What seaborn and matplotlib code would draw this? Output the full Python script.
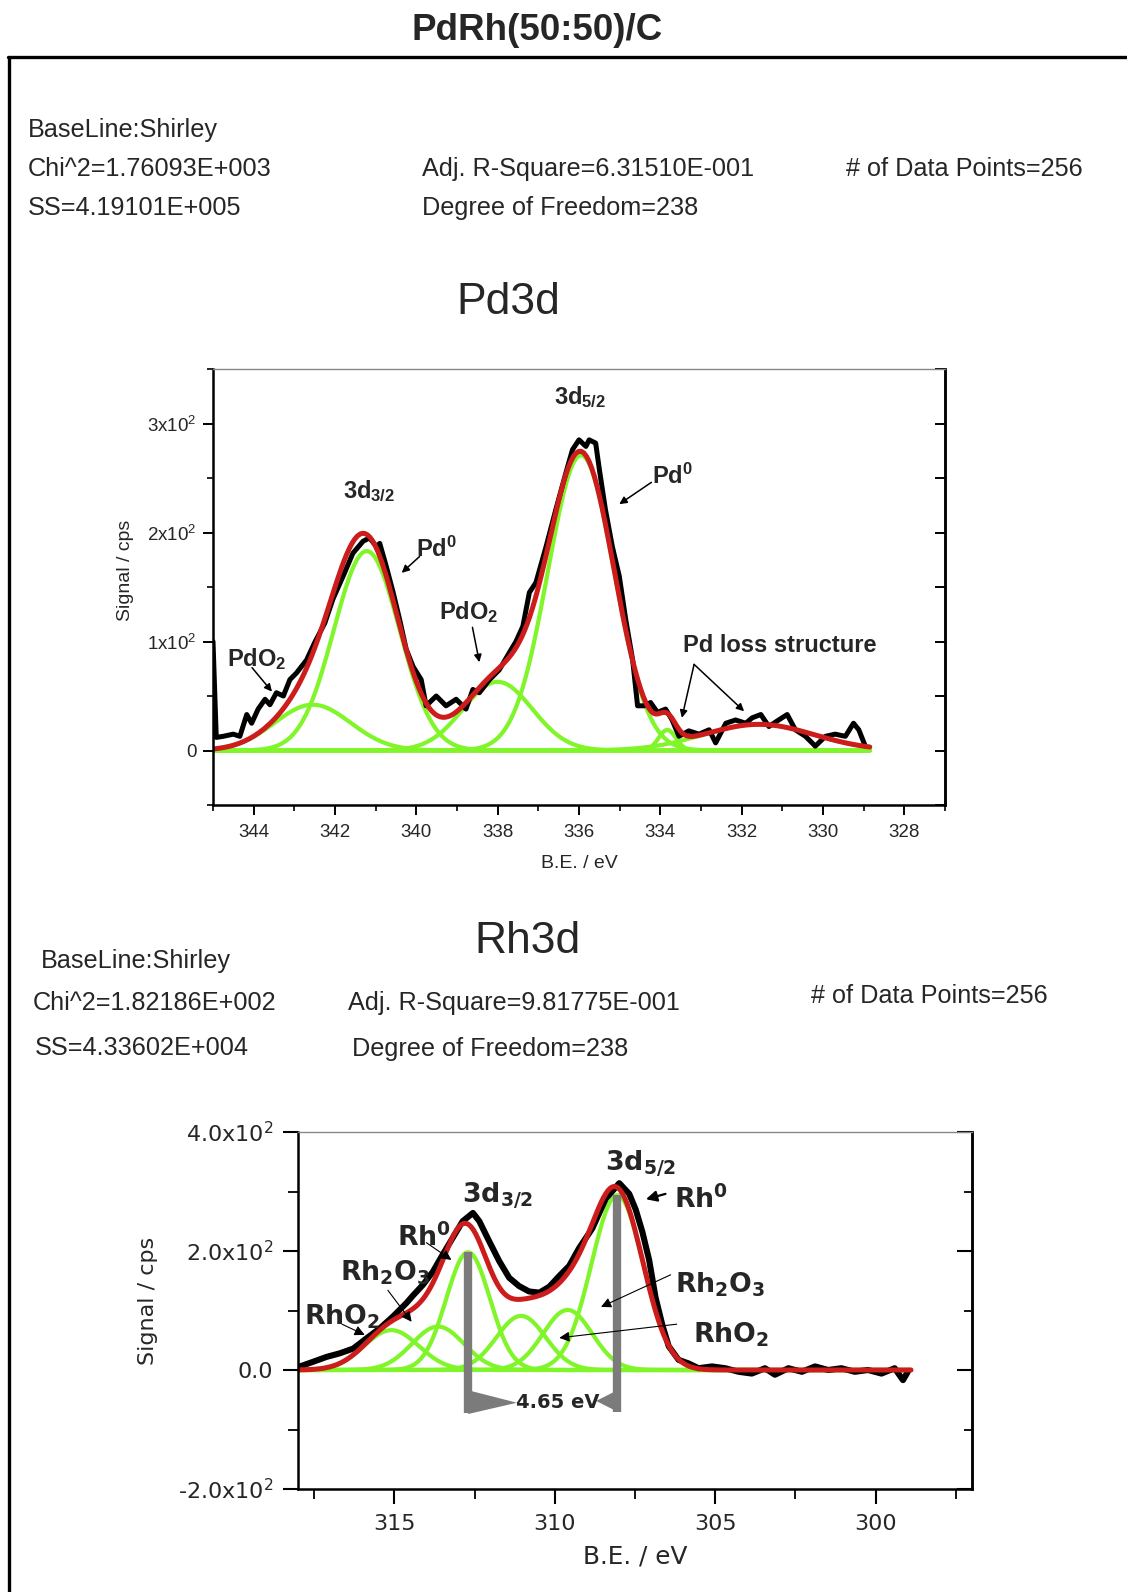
import numpy as np
import matplotlib
matplotlib.use("Agg")
import matplotlib.pyplot as plt
import seaborn as sns
from matplotlib.lines import Line2D
from matplotlib.ticker import MultipleLocator, FuncFormatter

W, H = 1127, 1592
N_POINTS = 256

# ---------------- Pd3d ----------------
pd_raw_be = [345.00, 344.92, 344.75, 344.50, 344.34, 344.17, 344.05, 343.89, 343.72, 343.60,
             343.44, 343.27, 343.11, 342.95, 342.70, 342.50, 342.25, 342.05, 341.80, 341.56,
             341.31, 341.15, 340.98, 340.90, 340.74, 340.57, 340.41, 340.25, 340.08, 339.88,
             339.76, 339.51, 339.27, 339.02, 338.78, 338.61, 338.45, 338.20, 337.96, 337.71,
             337.55, 337.38, 337.22, 337.06, 336.81, 336.57, 336.32, 336.16, 336.00, 335.83,
             335.75, 335.59, 335.50, 335.35, 335.18, 335.01, 334.85, 334.68, 334.56, 334.40,
             334.24, 334.07, 333.87, 333.71, 333.54, 333.30, 333.05, 332.80, 332.64, 332.39,
             332.15, 331.90, 331.74, 331.53, 331.33, 331.09, 330.88, 330.68, 330.43, 330.19,
             329.94, 329.70, 329.45, 329.25, 329.12, 328.96]
pd_raw_cps = [100, 12, 13, 15, 13, 33, 25, 38, 47, 42,
              53, 50, 65, 71, 83, 99, 117, 139, 160, 181,
              192, 195, 187, 190, 169, 145, 120, 93, 77, 65,
              41, 50, 41, 47, 38, 56, 53, 65, 74, 90,
              100, 114, 145, 154, 187, 221, 255, 276, 285, 279,
              285, 282, 258, 221, 187, 160, 120, 83, 41, 41,
              44, 35, 38, 28, 13, 18, 15, 19, 7, 25,
              28, 25, 30, 33, 22, 28, 33, 19, 13, 4,
              13, 15, 13, 25, 19, 4]
# fitted components: PdO2 3d3/2, Pd0 3d3/2, PdO2 3d5/2, Pd0 3d5/2, loss features
pd_comp_center = [342.55, 341.22, 338.00, 335.95, 333.83, 331.58]
pd_comp_height = [42, 183, 63, 271, 19, 24]
pd_comp_fwhm = [2.2, 1.9, 2.0, 1.92, 0.5, 3.2]
pd_energy_range = (345.0, 328.85)

# ---------------- Rh3d ----------------
rh_raw_be = [317.94, 317.52, 317.11, 316.70, 316.28, 315.87, 315.45, 315.04, 314.63, 314.42,
             314.11, 313.80, 313.49, 313.18, 312.87, 312.55, 312.35, 312.04, 311.73, 311.42,
             311.11, 310.80, 310.48, 310.17, 309.86, 309.55, 309.24, 308.83, 308.41, 307.99,
             307.68, 307.48, 307.27, 307.06, 306.86, 306.65, 306.45, 306.14, 305.83, 305.52,
             305.10, 304.69, 304.27, 303.86, 303.45, 303.14, 302.72, 302.30, 301.89, 301.48,
             301.07, 300.65, 300.24, 299.82, 299.41, 299.15, 299.00]
rh_raw_cps = [6, 14, 22, 28, 36, 53, 70, 90, 112, 125,
              143, 165, 194, 222, 250, 264, 250, 216, 183, 155,
              141, 132, 130, 140, 158, 175, 205, 238, 288, 314,
              296, 270, 232, 185, 122, 76, 40, 17, 11, 3,
              6, 3, -3, -6, 3, -8, 3, -3, 6, 0,
              3, -3, 0, -6, 3, -17, -3]
# fitted components: RhO2, Rh2O3, Rh0 (3d3/2) and Rh2O3, RhO2, Rh0 (3d5/2)
rh_comp_center = [315.09, 313.64, 312.70, 311.05, 309.60, 308.05]
rh_comp_height = [67, 73, 198, 91, 101, 294]
rh_comp_fwhm = [2.0, 1.9, 1.6, 1.8, 1.8, 1.9]
rh_energy_range = (318.0, 298.9)

GREEN = "#7ff52a"
RED = "#cc1c1c"
GRAY = "#7b7b7b"


def gaussian(x, center, height, fwhm):
    sigma = fwhm / (2 * np.sqrt(2 * np.log(2)))
    return height * np.exp(-(x - center) ** 2 / (2 * sigma ** 2))


def draw_spectrum(ax, erange, centers, heights, fwhms, raw_be, raw_cps, raw_lw):
    be = np.linspace(erange[0], erange[1], N_POINTS)
    comps = [gaussian(be, c, h, w) for c, h, w in zip(centers, heights, fwhms)]
    for comp in comps:
        sns.lineplot(x=be, y=comp, ax=ax, color=GREEN, linewidth=3.0,
                     sort=False, estimator=None)
    sns.lineplot(x=raw_be, y=raw_cps, ax=ax, color="black", linewidth=raw_lw,
                 sort=False, estimator=None)
    sns.lineplot(x=be, y=np.sum(comps, axis=0), ax=ax, color=RED, linewidth=3.6,
                 sort=False, estimator=None)


def fx(px):
    return px / W


def fy(py):
    return 1 - py / H


sns.set_theme(style="white")
plt.rcParams["font.family"] = ["Liberation Sans", "DejaVu Sans"]
plt.rcParams["mathtext.default"] = "regular"

fig = plt.figure(figsize=(W / 100, H / 100), dpi=100)

# page frame
fig.add_artist(Line2D([fx(8), 1.0], [fy(57), fy(57)], color="black", lw=2.4))
fig.add_artist(Line2D([fx(9), fx(9)], [fy(57), 0.0], color="black", lw=2.4))

fig.text(fx(537), fy(31), "PdRh(50:50)/C", ha="center", va="center",
         fontsize=26.5, fontweight="bold")

stat_kw = dict(ha="left", va="center", fontsize=18.2)
fig.text(fx(28), fy(130), "BaseLine:Shirley", **stat_kw)
fig.text(fx(28), fy(169), "Chi^2=1.76093E+003", **stat_kw)
fig.text(fx(28), fy(208), "SS=4.19101E+005", **stat_kw)
fig.text(fx(422), fy(169), "Adj. R-Square=6.31510E-001", **stat_kw)
fig.text(fx(422), fy(208), "Degree of Freedom=238", **stat_kw)
fig.text(fx(846), fy(169), "# of Data Points=256", **stat_kw)
fig.text(fx(508), fy(302), "Pd3d", ha="center", va="center", fontsize=32)

fig.text(fx(41), fy(961), "BaseLine:Shirley", **stat_kw)
fig.text(fx(33), fy(1003), "Chi^2=1.82186E+002", **stat_kw)
fig.text(fx(35), fy(1048), "SS=4.33602E+004", **stat_kw)
fig.text(fx(348), fy(1003), "Adj. R-Square=9.81775E-001", **stat_kw)
fig.text(fx(352), fy(1049), "Degree of Freedom=238", **stat_kw)
fig.text(fx(811), fy(996), "# of Data Points=256", **stat_kw)
fig.text(fx(528), fy(941), "Rh3d", ha="center", va="center", fontsize=32)

# ================= Pd3d panel =================
ax1 = fig.add_axes([fx(213), fy(805), (945 - 213) / W, (805 - 369) / H])
draw_spectrum(ax1, pd_energy_range, pd_comp_center, pd_comp_height, pd_comp_fwhm,
              pd_raw_be, pd_raw_cps, 3.6)
ax1.set_xlim(345, 327)
ax1.set_ylim(-50, 350)
ax1.xaxis.set_major_locator(MultipleLocator(2))
ax1.xaxis.set_minor_locator(MultipleLocator(1))
ax1.yaxis.set_major_locator(MultipleLocator(100))
ax1.yaxis.set_minor_locator(MultipleLocator(50))
ax1.xaxis.set_major_formatter(FuncFormatter(lambda v, p: f"{v:.0f}"))
ax1.yaxis.set_major_formatter(
    FuncFormatter(lambda v, p: "0" if abs(v) < 1e-9 else f"{v / 100:.0f}x10$^2$"))
ax1.tick_params(axis="both", which="major", direction="out", length=7, width=1.4,
                color="black", labelsize=13.5, bottom=True, left=True, pad=5)
ax1.tick_params(axis="both", which="minor", direction="out", length=4, width=1.2,
                color="black", bottom=True, left=True)
ax1.tick_params(axis="x", which="major", pad=7)
for side in ("left", "bottom", "right"):
    ax1.spines[side].set_color("black")
    ax1.spines[side].set_linewidth(1.8)
ax1.spines["top"].set_color("#888888")
ax1.spines["top"].set_linewidth(1.0)
sec1 = ax1.secondary_yaxis("right")
sec1.yaxis.set_major_locator(MultipleLocator(50))
sec1.tick_params(direction="in", length=7, width=1.4, labelright=False, color="black")
sec1.spines["right"].set_linewidth(1.8)
sec1.spines["right"].set_color("black")

ax1.set_xlabel("B.E. / eV", fontsize=14)
ax1.xaxis.label.set_va("center")
ax1.xaxis.set_label_coords(0.5, (805 - 863) / (805 - 369))
ax1.set_ylabel("Signal / cps", fontsize=14)
ax1.yaxis.label.set_va("center")
ax1.yaxis.set_label_coords((125 - 213) / (945 - 213), (805 - 570) / (805 - 369))

lab1 = dict(ha="center", va="center", fontsize=17, fontweight="bold")
arrow_thin = dict(arrowstyle="-|>", color="black", lw=1.1, mutation_scale=11,
                  shrinkA=0, shrinkB=0)
ax1.text(341.15, 238, "3d$_{3/2}$", **lab1)
ax1.text(335.97, 324, "3d$_{5/2}$", **lab1)
ax1.text(339.50, 185, "Pd$^0$", **lab1)
ax1.annotate("", xy=(340.36, 163), xytext=(339.92, 178), arrowprops=arrow_thin)
ax1.text(333.70, 252, "Pd$^0$", **lab1)
ax1.annotate("", xy=(335.01, 226), xytext=(334.22, 246), arrowprops=arrow_thin)
ax1.text(343.92, 84, "PdO$_2$", **lab1)
ax1.annotate("", xy=(343.55, 54), xytext=(344.04, 76), arrowprops=arrow_thin)
ax1.text(338.72, 127, "PdO$_2$", **lab1)
ax1.annotate("", xy=(338.45, 81), xytext=(338.62, 113), arrowprops=arrow_thin)
ax1.text(331.06, 96, "Pd loss structure", **lab1)
ax1.annotate("", xy=(333.47, 30), xytext=(333.17, 79), arrowprops=arrow_thin)
ax1.annotate("", xy=(331.94, 36), xytext=(333.17, 79), arrowprops=arrow_thin)

# ================= Rh3d panel =================
ax2 = fig.add_axes([fx(298), fy(1489), (972 - 298) / W, (1489 - 1132) / H])
draw_spectrum(ax2, rh_energy_range, rh_comp_center, rh_comp_height, rh_comp_fwhm,
              rh_raw_be, rh_raw_cps, 4.4)
ax2.set_xlim(318, 297)
ax2.set_ylim(-200, 400)
ax2.xaxis.set_major_locator(MultipleLocator(5))
ax2.xaxis.set_minor_locator(MultipleLocator(2.5))
ax2.yaxis.set_major_locator(MultipleLocator(200))
ax2.yaxis.set_minor_locator(MultipleLocator(100))
ax2.xaxis.set_major_formatter(FuncFormatter(lambda v, p: f"{v:.0f}"))
ax2.yaxis.set_major_formatter(
    FuncFormatter(lambda v, p: "0.0" if abs(v) < 1e-9 else f"{v / 100:.1f}x10$^2$"))
ax2.tick_params(axis="both", which="major", direction="out", length=11, width=1.5,
                color="black", labelsize=16, labelfontfamily="DejaVu Sans",
                bottom=True, left=True, pad=7)
ax2.tick_params(axis="both", which="minor", direction="out", length=7, width=1.3,
                color="black", bottom=True, left=True)
for side in ("left", "bottom", "right"):
    ax2.spines[side].set_color("black")
    ax2.spines[side].set_linewidth(1.8)
ax2.spines["top"].set_color("#888888")
ax2.spines["top"].set_linewidth(1.0)
sec2 = ax2.secondary_yaxis("right")
sec2.yaxis.set_major_locator(MultipleLocator(200))
sec2.yaxis.set_minor_locator(MultipleLocator(100))
sec2.tick_params(which="major", direction="in", length=11, width=1.5,
                 labelright=False, color="black")
sec2.tick_params(which="minor", direction="in", length=6, width=1.3, color="black")
sec2.spines["right"].set_linewidth(1.8)
sec2.spines["right"].set_color("black")

ax2.set_xlabel("B.E. / eV", fontsize=17.8, fontfamily="DejaVu Sans")
ax2.xaxis.label.set_va("center")
ax2.xaxis.set_label_coords(0.5, (1489 - 1556) / (1489 - 1132))
ax2.set_ylabel("Signal / cps", fontsize=16, fontfamily="DejaVu Sans")
ax2.yaxis.label.set_va("center")
ax2.yaxis.set_label_coords((148 - 298) / (972 - 298), (1489 - 1301) / (1489 - 1132))

# spin-orbit splitting bracket between Rh0 3d3/2 and Rh0 3d5/2
x_hi, x_lo = rh_comp_center[2], rh_comp_center[5]
split = x_hi - x_lo
ax2.plot([x_hi, x_hi], [rh_comp_height[2], -72], color=GRAY, lw=6,
         solid_capstyle="butt")
ax2.plot([x_lo, x_lo], [rh_comp_height[5], -70], color=GRAY, lw=6,
         solid_capstyle="butt")
ax2.fill([x_hi, x_hi, x_hi - 1.52], [-34, -74, -55], color=GRAY, lw=0)
ax2.fill([x_lo, x_lo, x_lo + 0.66], [-34, -70, -52], color=GRAY, lw=0)
ax2.text(x_hi - 1.50, -54, f"{split:.2f} eV", ha="left", va="center",
         fontsize=14, fontweight="bold", fontfamily="DejaVu Sans")

lab2 = dict(ha="center", va="center", fontsize=19.3, fontweight="bold",
            fontfamily="DejaVu Sans")
arrow_fat = dict(arrowstyle="-|>", color="black", lw=1.6, mutation_scale=16,
                 shrinkA=0, shrinkB=0)
arrow_fine = dict(arrowstyle="-|>", color="black", lw=0.8, mutation_scale=15,
                  shrinkA=0, shrinkB=0)
ax2.text(311.79, 291, "3d$_{3/2}$", **lab2)
ax2.text(307.32, 345, "3d$_{5/2}$", **lab2)
ax2.text(305.45, 286, "Rh$^0$", **lab2)
ax2.annotate("", xy=(307.16, 287), xytext=(306.55, 296), arrowprops=arrow_fat)
ax2.text(304.85, 143, "Rh$_2$O$_3$", **lab2)
ax2.annotate("", xy=(308.56, 106), xytext=(306.39, 160), arrowprops=arrow_fine)
ax2.text(304.50, 59, "RhO$_2$", **lab2)
ax2.annotate("", xy=(309.86, 54), xytext=(306.20, 77), arrowprops=arrow_fine)
ax2.text(314.06, 222, "Rh$^0$", **lab2)
ax2.annotate("", xy=(313.22, 185), xytext=(314.00, 214), arrowprops=arrow_fine)
ax2.text(315.30, 163, "Rh$_2$O$_3$", **lab2)
ax2.annotate("", xy=(314.46, 81), xytext=(315.20, 134), arrowprops=arrow_fine)
ax2.text(316.63, 89, "RhO$_2$", **lab2)
ax2.annotate("", xy=(315.92, 59), xytext=(316.63, 77), arrowprops=arrow_fine)

fig.savefig("out.png", dpi=100, facecolor="white")
